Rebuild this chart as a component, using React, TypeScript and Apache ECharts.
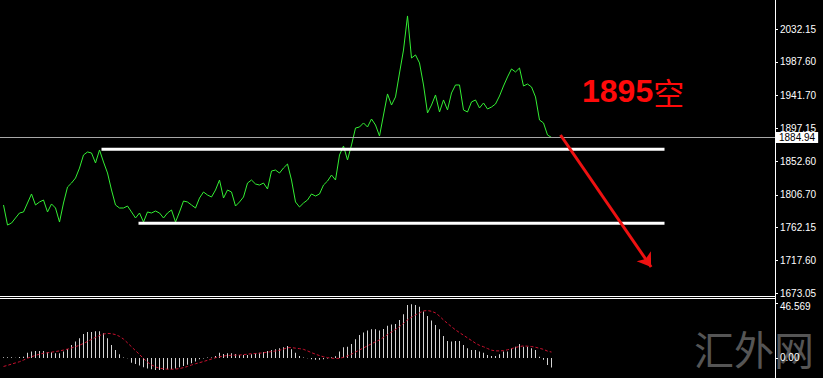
import React, { useEffect, useRef } from "react";
import * as echarts from "echarts";

// ---- data ----
const closes = [
  1792.9, 1765.6, 1768.3, 1775.2, 1782.0, 1783.4, 1795.6, 1807.9, 1792.9, 1797.0,
  1799.7, 1783.4, 1794.3, 1788.8, 1769.7, 1795.6, 1817.4, 1822.8, 1829.6, 1843.2,
  1861.0, 1865.1, 1863.7, 1850.1, 1867.8, 1851.4, 1836.5, 1813.3, 1792.9, 1788.8,
  1788.8, 1791.5, 1783.4, 1775.2, 1782.0, 1769.7, 1783.4, 1782.0, 1784.7, 1782.0,
  1775.2, 1782.0, 1786.1, 1769.7, 1783.4, 1798.3, 1797.0, 1792.9, 1788.8, 1802.4,
  1810.6, 1806.5, 1803.8, 1813.3, 1826.9, 1802.4, 1813.3, 1810.6, 1791.5, 1797.0,
  1803.8, 1822.8, 1826.9, 1821.5, 1820.1, 1822.8, 1814.7, 1839.2, 1840.5, 1836.4,
  1843.3, 1848.7, 1826.9, 1797.0, 1790.2, 1795.6, 1799.7, 1807.9, 1805.1, 1807.9,
  1820.1, 1825.5, 1833.7, 1826.9, 1861.0, 1873.2, 1854.2, 1874.6, 1897.7, 1899.1,
  1904.6, 1899.1, 1910.0, 1901.8, 1886.8, 1915.4, 1944.1, 1929.0, 1940.0, 1972.6,
  2003.9, 2050.3, 1993.0, 1997.2, 1986.3, 1956.3, 1918.2, 1929.0, 1942.7, 1919.5,
  1935.9, 1922.3, 1945.4, 1956.3, 1956.3, 1922.3, 1919.5, 1933.2, 1935.9, 1925.0,
  1931.8, 1923.6, 1926.3, 1930.4, 1941.3, 1954.9, 1967.2, 1978.1, 1974.0, 1979.4,
  1954.9, 1957.6, 1953.6, 1940.0, 1908.6, 1904.6, 1888.2, 1884.9,
];

const macdHist = [
  0.5, 0.5, 0.5, 0.2, 0.8, 1.1, 4.5, 5.4, 5.9, 5.9,
  5.9, 4.8, 4.8, 4.0, 4.0, 5.4, 7.6, 11.0, 13.9, 16.7,
  20.4, 22.0, 22.0, 22.6, 22.6, 21.0, 16.7, 11.0, 6.8, 3.1,
  0.3, -0.3, -4.0, -5.1, -6.5, -7.9, -9.0, -9.6, -10.2, -10.2,
  -10.2, -9.6, -9.6, -9.0, -7.9, -6.8, -5.7, -4.5, -3.1, -1.1,
  -0.5, 0.3, 0.3, 1.7, 4.5, 3.4, 4.0, 4.0, 3.4, 2.5,
  2.5, 2.5, 3.1, 4.0, 4.5, 5.1, 5.9, 6.8, 7.4, 8.2,
  9.0, 10.2, 7.4, 4.5, 1.7, 0.3, -0.3, -1.0, -1.5, -1.5,
  -1.0, -0.5, 0.5, 1.5, 5.4, 9.0, 9.6, 11.9, 15.8, 19.5,
  21.5, 23.2, 24.3, 24.3, 23.2, 24.6, 27.4, 28.3, 28.8, 32.2,
  37.0, 45.0, 45.5, 45.0, 43.5, 39.3, 35.6, 31.7, 28.0, 24.3,
  18.7, 14.4, 13.9, 14.4, 14.4, 11.0, 8.2, 6.8, 6.8, 5.4,
  4.5, 2.5, 1.7, 1.7, 3.1, 5.4, 5.4, 8.2, 9.6, 11.9,
  9.6, 9.6, 8.2, 6.8, 1.1, -1.5, -6.0, -8.0,
];

const macdSignal = [
  -7.2, -6.3, -5.2, -4.2, -3.2, -1.8, -0.2, 1.0, 2.2, 3.2,
  4.0, 4.4, 4.9, 5.4, 6.0, 6.7, 7.5, 8.5, 9.6, 10.8,
  12.3, 14.0, 15.8, 17.5, 19.0, 20.3, 20.8, 20.6, 19.8, 18.3,
  16.0, 12.8, 9.5, 6.2, 3.0, -0.5, -3.6, -5.9, -7.6, -8.7,
  -9.2, -9.5, -9.6, -9.4, -9.0, -8.2, -7.2, -6.0, -4.9, -4.0,
  -3.0, -2.0, -0.9, 0.2, 1.0, 1.6, 2.1, 2.3, 2.4, 2.5,
  2.8, 3.2, 3.6, 3.8, 4.0, 4.4, 4.9, 5.4, 5.9, 6.5,
  7.5, 8.7, 8.8, 8.3, 7.9, 7.3, 6.0, 4.5, 3.2, 2.0,
  1.0, 0.3, -0.2, -0.4, -0.3, 0.5, 1.8, 3.3, 5.0, 6.8,
  8.5, 10.3, 12.0, 13.7, 15.3, 17.5, 19.8, 22.0, 24.2, 26.6,
  29.3, 32.3, 34.6, 36.5, 38.3, 39.9, 40.2, 39.6, 38.2, 35.5,
  32.2, 29.3, 26.5, 23.8, 21.5, 19.3, 17.0, 14.8, 12.5, 10.7,
  9.5, 8.0, 6.6, 6.0, 6.0, 6.2, 6.9, 7.9, 8.9, 9.7,
  10.2, 10.0, 9.7, 9.1, 8.2, 7.3, 5.8, 5.0,
];

const priceTicks = [2032.15, 1987.6, 1941.7, 1897.15, 1852.6, 1806.7, 1762.15, 1717.6, 1673.05];
const macdTicks = [46.569, 0];
const macdTickLabels = ["46.569", "0.00"];
const lastPrice = 1884.94;

// horizontal levels drawn on the chart: [price, fromBar, toBar]
const resistanceLevel = [1868.7, 24.5, 165.25];
const supportLevel = [1767.9, 33.75, 165.25];
// arrow: [bar, price] start and end
const arrowStart = [139.25, 1888.2];
const arrowEnd = [161.9, 1708.5];

const callNumber = "1895";
const callWord = "空";
const watermarkText = "汇外网";

export default function App() {
  const ref = useRef<HTMLDivElement>(null);

  useEffect(() => {
    if (!ref.current) return;
    const chart = echarts.init(ref.current, null, { renderer: "svg" });

    const priceData = closes.map((v, i) => [i, v]);
    const histData = macdHist.map((v, i) => [i, v]);
    const sigData = macdSignal.map((v, i) => [i, v]);

    const xMin = -0.875;
    const xMax = xMin + 775 / 4;

    const labelFont = { color: "#ffffff", fontSize: 10, fontFamily: "Liberation Sans" };

    chart.setOption({
      animation: false,
      backgroundColor: "#000000",
      grid: [
        { left: 0, right: 48, top: 0, height: 296 },
        { left: 0, right: 48, top: 299, height: 79 },
      ],
      xAxis: [
        { type: "value", gridIndex: 0, min: xMin, max: xMax, show: false },
        { type: "value", gridIndex: 1, min: xMin, max: xMax, show: false },
      ],
      yAxis: [
        {
          type: "value",
          gridIndex: 0,
          position: "right",
          min: 1669,
          max: 2072,
          splitLine: { show: false },
          axisLine: { show: false, onZero: false },
          axisTick: {
            show: true,
            length: 3,
            customValues: priceTicks,
            lineStyle: { color: "#ffffff" },
          },
          axisLabel: {
            ...labelFont,
            margin: 5,
            customValues: priceTicks,
            formatter: (v: number) => v.toFixed(2),
          },
        },
        {
          type: "value",
          gridIndex: 1,
          position: "right",
          min: -17,
          max: 50,
          splitLine: { show: false },
          axisLine: { show: false, onZero: false },
          axisTick: {
            show: true,
            length: 3,
            customValues: macdTicks,
            lineStyle: { color: "#ffffff" },
          },
          axisLabel: {
            ...labelFont,
            margin: 5,
            customValues: macdTicks,
            formatter: (v: number) => {
              const k = macdTicks.indexOf(v);
              if (k < 0) return "";
              return k === 0 ? "{top|" + macdTickLabels[k] + "}" : macdTickLabels[k];
            },
            rich: {
              top: {
                color: "#ffffff",
                fontSize: 10,
                fontFamily: "Liberation Sans",
                padding: [7, 0, 0, 0],
              },
            },
          },
        },
      ],
      series: [
        {
          type: "line",
          name: "price",
          xAxisIndex: 0,
          yAxisIndex: 0,
          data: priceData,
          showSymbol: false,
          symbol: "none",
          lineStyle: { color: "#33ee33", width: 1 },
          z: 3,
          markLine: {
            silent: true,
            symbol: "none",
            lineStyle: { color: "#a8a8a8", width: 1, type: "solid" },
            label: {
              show: true,
              position: "end",
              distance: 1,
              formatter: () => lastPrice.toFixed(2),
              backgroundColor: "#ffffff",
              color: "#000000",
              fontSize: 10,
              fontFamily: "Liberation Sans",
              padding: [1, 3, 0, 3],
            },
            data: [{ yAxis: lastPrice }],
          },
        },
        {
          type: "line",
          name: "resistance",
          xAxisIndex: 0,
          yAxisIndex: 0,
          data: [
            [resistanceLevel[1], resistanceLevel[0]],
            [resistanceLevel[2], resistanceLevel[0]],
          ],
          symbol: "none",
          lineStyle: { color: "#ffffff", width: 3 },
          z: 4,
        },
        {
          type: "line",
          name: "support",
          xAxisIndex: 0,
          yAxisIndex: 0,
          data: [
            [supportLevel[1], supportLevel[0]],
            [supportLevel[2], supportLevel[0]],
          ],
          symbol: "none",
          lineStyle: { color: "#ffffff", width: 3 },
          z: 4,
        },
        {
          type: "lines",
          name: "arrow",
          coordinateSystem: "cartesian2d",
          xAxisIndex: 0,
          yAxisIndex: 0,
          symbol: ["none", "arrow"],
          symbolSize: 13,
          lineStyle: { color: "#ee1111", width: 3, opacity: 1, curveness: 0 },
          data: [{ coords: [arrowStart, arrowEnd] }],
          z: 6,
        },
        {
          type: "bar",
          name: "MACD",
          xAxisIndex: 1,
          yAxisIndex: 1,
          data: histData,
          barWidth: 1,
          itemStyle: { color: "#d4d4d4" },
          z: 2,
        },
        {
          type: "line",
          name: "Signal",
          xAxisIndex: 1,
          yAxisIndex: 1,
          data: sigData,
          symbol: "none",
          lineStyle: { color: "#c8102e", width: 1, type: [3, 2] },
          z: 3,
        },
      ],
      graphic: [
        {
          type: "text",
          z: -10,
          x: 694,
          y: 348,
          style: {
            text: watermarkText,
            fill: "#555555",
            font: '40px "Noto Sans CJK SC"',
            verticalAlign: "middle",
            align: "left",
          },
        },
        {
          type: "line",
          z: 50,
          shape: { x1: 775.5, y1: 0, x2: 775.5, y2: 378 },
          style: { stroke: "#ffffff", lineWidth: 1 },
        },
        {
          type: "line",
          z: 50,
          shape: { x1: 0, y1: 296.5, x2: 775, y2: 296.5 },
          style: { stroke: "#ffffff", lineWidth: 1 },
        },
        {
          type: "line",
          z: 50,
          shape: { x1: 0, y1: 298.5, x2: 775, y2: 298.5 },
          style: { stroke: "#ffffff", lineWidth: 1 },
        },
        {
          type: "text",
          z: 60,
          x: 582,
          y: 91,
          style: {
            text: "{a|" + callNumber + "}{b|" + callWord + "}",
            verticalAlign: "middle",
            align: "left",
            rich: {
              a: {
                fill: "#ff0a0a",
                color: "#ff0a0a",
                fontSize: 32,
                fontWeight: "bold",
                fontFamily: "Liberation Sans",
              },
              b: {
                fill: "#ff0a0a",
                color: "#ff0a0a",
                fontSize: 31,
                fontFamily: "Noto Sans CJK SC",
              },
            },
          },
        },
      ],
    });

    return () => chart.dispose();
  }, []);

  return (
    <div
      ref={ref}
      style={{ position: "absolute", left: 0, top: 0, width: 823, height: 378 }}
    />
  );
}
